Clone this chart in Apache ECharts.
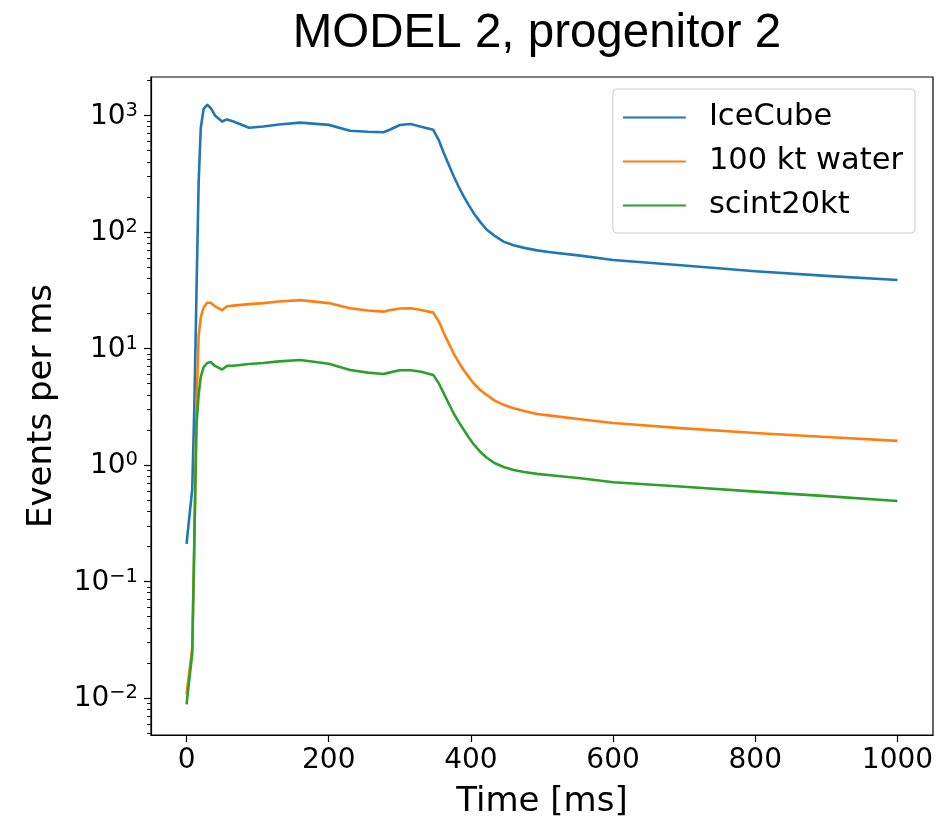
<!DOCTYPE html>
<html>
<head>
<meta charset="utf-8">
<script src="https://cdn.jsdelivr.net/npm/echarts@6/dist/echarts.min.js"></script>
<style>
  html, body { margin: 0; padding: 0; background: #fff; }
  #chart { width: 945px; height: 816px; }
</style>
</head>
<body>
<div id="chart"></div>
<script>
// Time samples (ms)
const timeMs = [0, 8, 11, 14, 17, 20, 24, 29, 34, 40, 50, 57, 66, 88, 108, 130, 160, 200, 230, 255, 277, 285, 300, 315, 330, 347, 355, 362, 369, 376, 383, 390, 397, 404, 413, 422, 433, 446, 460, 475, 493, 512, 554, 600, 700, 800, 900, 1000];

// Event rates (events per ms)
const iceCube = [0.21, 0.62, 3.2, 31, 263, 780, 1137, 1234, 1160, 1000, 888, 925, 888, 785, 805, 835, 867, 830, 740, 725, 717, 750, 828, 845, 801, 752, 610, 474, 375, 299, 243, 201, 170, 145, 122, 105, 93, 82.6, 77, 73, 69.5, 67, 62.6, 57.5, 51.5, 46, 42, 38.7];
const water100kt = [0.0107, 0.027, 0.2, 3.2, 12.8, 18.5, 22.5, 24.7, 24.7, 23, 21.3, 23, 23.3, 24, 24.5, 25.3, 26, 24.5, 22.1, 21.2, 20.7, 21.3, 22, 22.1, 21.4, 20.3, 17.0, 13.5, 11.0, 9.0, 7.6, 6.5, 5.7, 5.0, 4.4, 4.0, 3.58, 3.28, 3.07, 2.9, 2.74, 2.65, 2.47, 2.29, 2.06, 1.88, 1.74, 1.61];
const scint20kt = [0.0088, 0.024, 0.245, 2.2, 4.0, 5.7, 6.9, 7.5, 7.65, 7.08, 6.6, 7.08, 7.1, 7.36, 7.5, 7.75, 7.96, 7.4, 6.53, 6.2, 6.04, 6.2, 6.5, 6.5, 6.3, 5.93, 5.0, 4.1, 3.35, 2.75, 2.33, 2.0, 1.72, 1.5, 1.3, 1.16, 1.04, 0.96, 0.906, 0.87, 0.838, 0.815, 0.77, 0.71, 0.65, 0.59, 0.54, 0.49];

// Axis ticks
const xTicks = [0, 200, 400, 600, 800, 1000];
const yMajorExponents = [-2, -1, 0, 1, 2, 3];

const seriesNames = ['IceCube', '100 kt water', 'scint20kt'];
const seriesColors = ['#1f77b4', '#ff7f0e', '#2ca02c'];

const yMin = Math.pow(10, -2.318);
const yMax = Math.pow(10, 3.33);
const yMajor = yMajorExponents.map(e => Math.pow(10, e));
const yMinor = [];
for (let e = -3; e <= 3; e++) {
  for (let m = 2; m <= 9; m++) {
    const v = m * Math.pow(10, e);
    if (v > yMin && v < yMax) yMinor.push(v);
  }
}

const pair = vals => timeMs.map((t, i) => [t, vals[i]]);
const FONT = 'DejaVu Sans';

function supLabel(v) {
  const e = Math.round(Math.log10(v));
  const s = e < 0 ? '\u2212' + Math.abs(e) : String(e);
  return '{b|10}{s|' + s + '}';
}

const chart = echarts.init(document.getElementById('chart'), null, { renderer: 'canvas' });

chart.setOption({
  animation: false,
  backgroundColor: '#ffffff',
  title: {
    text: 'MODEL 2, progenitor 2',
    left: 532,
    top: 5,
    textAlign: 'center',
    textStyle: { fontFamily: 'Liberation Sans', fontSize: 47.5, fontWeight: 'normal', color: '#000' }
  },
  grid: {
    left: 151, right: 12, top: 77, bottom: 81,
    show: true, borderColor: '#000', borderWidth: 1.2, backgroundColor: 'transparent',
    containLabel: false,
    outerBoundsMode: 'none'
  },
  legend: {
    data: seriesNames,
    orient: 'vertical',
    right: 30,
    top: 89,
    padding: [13, 12, 12, 10],
    itemGap: 13,
    itemWidth: 63,
    itemHeight: 14,
    backgroundColor: '#fff',
    borderColor: '#cccccc',
    borderWidth: 1,
    borderRadius: 4,
    icon: 'path://M0,6 L63,6 L63,8 L0,8 Z',
    textStyle: { fontFamily: FONT, fontSize: 30.5, color: '#000', lineHeight: 31, padding: [0, 0, 0, 18] }
  },
  xAxis: {
    type: 'value',
    min: -50,
    max: 1050,
    name: 'Time [ms]',
    nameLocation: 'middle',
    nameGap: 50,
    nameTextStyle: { fontFamily: FONT, fontSize: 34, color: '#000' },
    axisLine: { show: true, onZero: false, lineStyle: { color: '#000', width: 1.2 } },
    axisTick: { show: true, inside: false, length: 7, lineStyle: { color: '#000', width: 1.2 }, customValues: xTicks },
    axisLabel: {
      show: true, margin: 12, fontFamily: FONT, fontSize: 28, color: '#000',
      customValues: xTicks, formatter: v => String(v)
    },
    splitLine: { show: false }
  },
  yAxis: [
    {
      type: 'log',
      logBase: 10,
      min: yMin,
      max: yMax,
      name: 'Events per ms',
      nameLocation: 'middle',
      nameGap: 92,
      nameRotate: 90,
      nameTextStyle: { fontFamily: FONT, fontSize: 34, color: '#000' },
      axisLine: { show: true, onZero: false, lineStyle: { color: '#000', width: 1.2 } },
      axisTick: { show: true, inside: false, length: 7, lineStyle: { color: '#000', width: 1.2 }, customValues: yMajor },
      axisLabel: {
        show: true,
        margin: 13,
        customValues: yMajor,
        formatter: v => supLabel(v),
        rich: {
          b: { fontFamily: FONT, fontSize: 28, color: '#000', lineHeight: 30, verticalAlign: 'bottom' },
          s: { fontFamily: FONT, fontSize: 19.5, color: '#000', lineHeight: 19, verticalAlign: 'top' }
        }
      },
      splitLine: { show: false },
      minorTick: { show: false }
    },
    {
      type: 'log',
      logBase: 10,
      min: yMin,
      max: yMax,
      position: 'left',
      axisLine: { show: false, onZero: false },
      axisTick: { show: true, inside: false, length: 4, lineStyle: { color: '#000', width: 0.9 }, customValues: yMinor },
      axisLabel: { show: false },
      splitLine: { show: false }
    }
  ],
  series: [iceCube, water100kt, scint20kt].map((vals, i) => ({
    name: seriesNames[i],
    type: 'line',
    yAxisIndex: 0,
    data: pair(vals),
    showSymbol: false,
    symbol: 'none',
    smooth: false,
    clip: true,
    color: seriesColors[i],
    lineStyle: { color: seriesColors[i], width: 2.6, join: 'round' },
    itemStyle: { color: seriesColors[i] },
    emphasis: { disabled: true }
  }))
});
</script>
</body>
</html>
